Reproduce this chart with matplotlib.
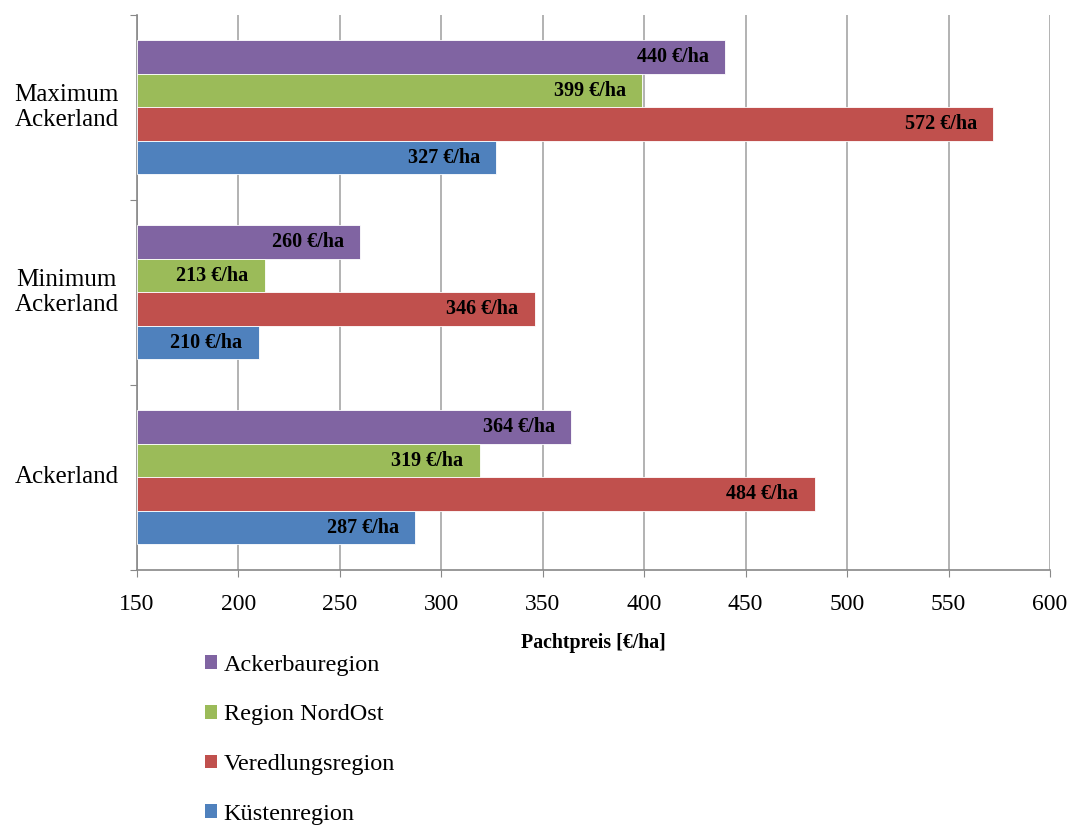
import numpy as np
import matplotlib.pyplot as plt
from matplotlib.patches import Patch

plt.rcParams['font.family'] = ['Liberation Serif', 'DejaVu Serif']

categories = ["Ackerland", "Minimum\nAckerland", "Maximum\nAckerland"]
regions = ["Ackerbauregion", "Region NordOst", "Veredlungsregion", "Küstenregion"]
colors = ["#8064A2", "#9BBB59", "#C0504D", "#4F81BD"]

# values per region, in the order of categories
ackerbau = [364, 260, 440]
nordost = [319, 213, 399]
veredlung = [484, 346, 572]
kueste = [287, 210, 327]
series = [ackerbau, nordost, veredlung, kueste]

fig = plt.figure(figsize=(10.76, 8.27), dpi=100)
ax = fig.add_axes([0.1273, 0.3108, 0.8485, 0.6711])

y = np.arange(len(categories))
h = 0.181
offsets = [0.2715, 0.0905, -0.0905, -0.2715]

for vals, off, col in zip(series, offsets, colors):
    ax.barh(y + off, np.array(vals) - 150, left=150, height=h,
            color=col, edgecolor="white", linewidth=0.6, zorder=3)
    for v, yy in zip(vals, y + off):
        ax.text(v - 8, yy, f"{v} €/ha", ha="right", va="center",
                fontsize=14.5, fontweight="bold", zorder=4)

ax.set_xlim(150, 600)
ax.set_xticks(np.arange(150, 601, 50))
ax.set_ylim(-0.5, 2.5)
ax.set_yticks([-0.5, 0.5, 1.5, 2.5])
ax.set_yticklabels([])
ax.tick_params(axis="y", length=5, color="#888888", direction="out")
ax.tick_params(axis="x", length=5, color="#888888", direction="out",
               labelsize=17, pad=12)
ax.grid(axis="x", color="#A6A6A6", linewidth=1.2, zorder=0)
for s in ["top", "right"]:
    ax.spines[s].set_visible(False)
for s in ["left", "bottom"]:
    ax.spines[s].set_color("#888888")
    ax.spines[s].set_linewidth(1.2)

for yy, cat in zip(y, categories):
    ax.text(-0.077, yy, cat, transform=ax.get_yaxis_transform(),
            ha="center", va="center", fontsize=18, linespacing=1.2)

ax.set_xlabel("Pachtpreis [€/ha]", fontweight="bold", fontsize=14.3, labelpad=13)

handles = [Patch(facecolor=c, edgecolor="none") for c in colors]
fig.legend(handles, regions, loc="upper left", bbox_to_anchor=(0.1795, 0.223),
           frameon=False, fontsize=17.5, handlelength=0.5, handleheight=0.5,
           handletextpad=0.25, labelspacing=1.18, borderpad=0)

fig.savefig("out.png", dpi=100)
